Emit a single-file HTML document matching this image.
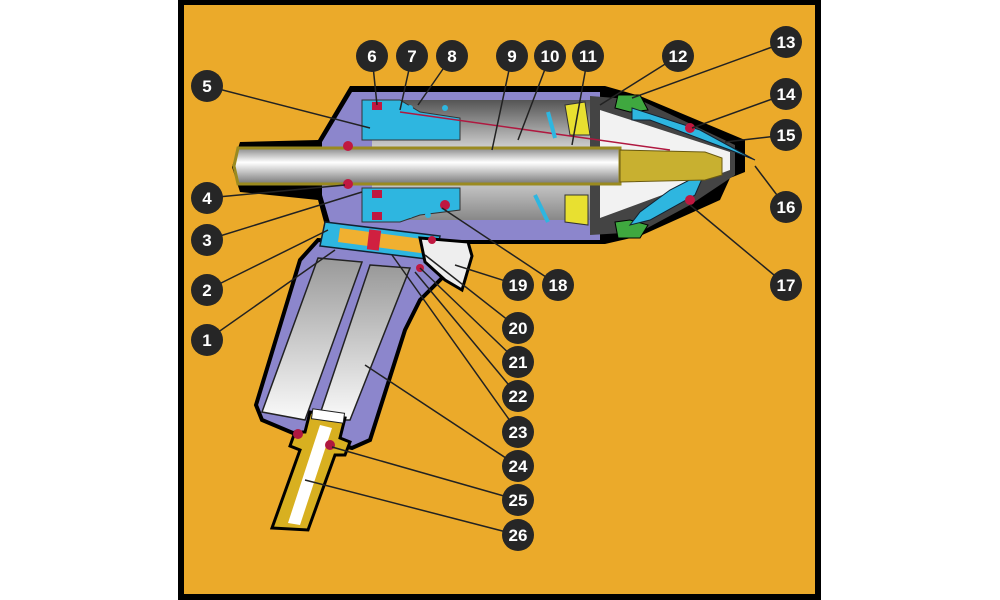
<!DOCTYPE html>
<html><head><meta charset="utf-8"><style>
html,body{margin:0;padding:0;background:#fff;width:1000px;height:600px;overflow:hidden}
text{font-family:"Liberation Sans",sans-serif;font-weight:bold;font-size:17px;fill:#fff;text-anchor:middle}
</style></head><body>
<svg width="1000" height="600" viewBox="0 0 1000 600" xmlns="http://www.w3.org/2000/svg">
<defs>
<linearGradient id="rod" x1="0" y1="0" x2="0" y2="1"><stop offset="0" stop-color="#888"/><stop offset="0.4" stop-color="#fff"/><stop offset="1" stop-color="#777"/></linearGradient>
<linearGradient id="cyl" x1="0" y1="0" x2="0" y2="1"><stop offset="0" stop-color="#999"/><stop offset="1" stop-color="#fafafa"/></linearGradient>
<linearGradient id="gr" x1="0" y1="0" x2="0" y2="1"><stop offset="0" stop-color="#555"/><stop offset="0.5" stop-color="#eee"/><stop offset="1" stop-color="#888"/></linearGradient>
</defs>
<rect x="181" y="2" width="637" height="595" fill="#EBAA2A" stroke="#000" stroke-width="6"/>
<!-- handle -->
<path d="M318 240 L440 248 L445 275 L420 300 L405 330 L370 440 L352 448 L300 436 L262 420 L256 405 L300 260 Z" fill="#8C86CC" stroke="#000" stroke-width="4"/>
<path d="M318 258 L362 262 L305 420 L262 412 Z" fill="url(#cyl)" stroke="#222" stroke-width="1.5"/>
<path d="M370 265 L410 268 L350 420 L318 420 Z" fill="url(#cyl)" stroke="#222" stroke-width="1.5"/>
<!-- fitting -->
<path d="M310 412 L345 418 L340 438 L350 442 L345 455 L335 455 L308 530 L272 528 L300 450 L290 446 L295 432 L305 432 Z" fill="#D8B020" stroke="#000" stroke-width="3"/>
<path d="M320 425 L332 428 L300 525 L288 523 Z" fill="#fff"/>
<rect x="312" y="411" width="32" height="10" fill="#fff" stroke="#222" transform="rotate(8 328 416)"/>
<circle cx="298" cy="434" r="5" fill="#B01840"/><circle cx="330" cy="445" r="5" fill="#B01840"/>
<!-- barrel -->
<path d="M350 86 L605 86 L640 96 L745 140 L745 172 L730 178 L720 200 L640 236 L605 244 L330 244 L318 200 L240 192 L232 167 L240 142 L318 140 Z" fill="#000"/>
<path d="M352 92 L600 92 L600 240 L335 240 L322 195 L322 142 Z" fill="#8C86CC"/>
<rect x="372" y="100" width="228" height="120" fill="url(#gr)"/>
<!-- nose cone -->
<path d="M590 96 L640 100 L735 145 L735 175 L690 205 L640 232 L590 235 Z" fill="#444"/>
<path d="M600 110 L730 152 L730 170 L600 218 Z" fill="#f2f2f2"/>
<!-- green rings -->
<path d="M618 95 L640 95 L648 110 L630 112 L615 108 Z" fill="#3FA83F" stroke="#000"/>
<path d="M615 222 L630 220 L648 225 L640 238 L618 238 Z" fill="#3FA83F" stroke="#000"/>
<!-- yellow -->
<path d="M565 105 L585 102 L590 135 L570 135 Z" fill="#E8E030" stroke="#333"/>
<path d="M565 195 L588 195 L588 225 L565 222 Z" fill="#E8E030" stroke="#333"/>
<!-- blue piston -->
<path d="M362 100 L400 100 L420 112 L460 118 L460 140 L400 140 L362 140 Z" fill="#2EB6E0" stroke="#333"/>
<path d="M362 188 L460 188 L460 210 L420 215 L400 222 L362 222 Z" fill="#2EB6E0" stroke="#333"/>
<!-- blue jaws -->
<path d="M632 108 L700 130 L755 160 L730 150 L650 120 L632 120 Z" fill="#2EB6E0" stroke="#123"/>
<path d="M630 225 L650 220 L695 195 L705 172 L670 190 L640 212 Z" fill="#2EB6E0" stroke="#123"/>
<!-- red thin line -->
<line x1="400" y1="112" x2="670" y2="150" stroke="#B01840" stroke-width="1.5"/>
<!-- rod -->
<path d="M238 148 L620 148 L620 184 L238 184 L234 166 Z" fill="url(#rod)" stroke="#9a8a20" stroke-width="3"/>
<path d="M620 150 L705 152 L722 158 L722 175 L705 180 L620 182 Z" fill="#C8B030" stroke="#6a5a10"/>
<!-- trigger valve -->
<path d="M325 222 L440 236 L435 260 L320 246 Z" fill="#2EB6E0" stroke="#123" stroke-width="1.5"/>
<path d="M340 228 L430 240 L428 254 L338 242 Z" fill="#F0B030"/>
<rect x="368" y="230" width="12" height="20" fill="#D02040" transform="rotate(7 374 240)"/>
<path d="M420 238 L468 242 L472 256 L462 290 L445 280 L425 262 Z" fill="#eee" stroke="#000" stroke-width="3"/>
<!-- small red dots -->
<g fill="#C01840">
<circle cx="348" cy="146" r="5"/><circle cx="348" cy="184" r="5"/>
<rect x="372" y="102" width="10" height="8"/><rect x="372" y="190" width="10" height="8"/><rect x="372" y="212" width="10" height="8"/>
<circle cx="445" cy="205" r="5"/><circle cx="690" cy="128" r="5"/><circle cx="690" cy="200" r="5"/>
<circle cx="432" cy="240" r="4"/><circle cx="420" cy="268" r="4"/>
</g>
<g fill="#2EB6E0"><circle cx="410" cy="108" r="3"/><circle cx="445" cy="108" r="3"/><circle cx="410" cy="215" r="3"/><circle cx="428" cy="215" r="3"/></g>
<line x1="535" y1="195" x2="548" y2="222" stroke="#2EB6E0" stroke-width="4"/>
<line x1="548" y1="112" x2="555" y2="138" stroke="#2EB6E0" stroke-width="4"/>
<!-- leader lines -->
<g stroke="#222" stroke-width="1.5" fill="none">
<line x1="207" y1="86" x2="370" y2="128"/><line x1="207" y1="198" x2="345" y2="185"/>
<line x1="207" y1="240" x2="362" y2="192"/><line x1="207" y1="290" x2="328" y2="230"/>
<line x1="207" y1="340" x2="335" y2="250"/>
<line x1="372" y1="56" x2="377" y2="105"/><line x1="412" y1="56" x2="400" y2="110"/>
<line x1="452" y1="56" x2="418" y2="105"/><line x1="512" y1="56" x2="492" y2="150"/>
<line x1="550" y1="56" x2="518" y2="140"/><line x1="588" y1="56" x2="572" y2="145"/>
<line x1="678" y1="56" x2="600" y2="105"/><line x1="786" y1="42" x2="632" y2="98"/>
<line x1="786" y1="94" x2="692" y2="128"/><line x1="786" y1="135" x2="725" y2="142"/>
<line x1="786" y1="207" x2="755" y2="166"/><line x1="786" y1="285" x2="690" y2="205"/>
<line x1="558" y1="285" x2="442" y2="208"/><line x1="518" y1="285" x2="455" y2="265"/>
<line x1="518" y1="328" x2="425" y2="255"/><line x1="518" y1="362" x2="420" y2="268"/>
<line x1="518" y1="396" x2="415" y2="272"/><line x1="518" y1="432" x2="392" y2="255"/>
<line x1="518" y1="466" x2="365" y2="365"/><line x1="518" y1="500" x2="332" y2="447"/>
<line x1="518" y1="535" x2="305" y2="480"/>
</g>
<!-- labels -->
<g fill="#262626">
<circle cx="207" cy="86" r="16"/><circle cx="207" cy="198" r="16"/><circle cx="207" cy="240" r="16"/>
<circle cx="207" cy="290" r="16"/><circle cx="207" cy="340" r="16"/>
<circle cx="372" cy="56" r="16"/><circle cx="412" cy="56" r="16"/><circle cx="452" cy="56" r="16"/>
<circle cx="512" cy="56" r="16"/><circle cx="550" cy="56" r="16"/><circle cx="588" cy="56" r="16"/>
<circle cx="678" cy="56" r="16"/><circle cx="786" cy="42" r="16"/><circle cx="786" cy="94" r="16"/>
<circle cx="786" cy="135" r="16"/><circle cx="786" cy="207" r="16"/><circle cx="786" cy="285" r="16"/>
<circle cx="558" cy="285" r="16"/><circle cx="518" cy="285" r="16"/><circle cx="518" cy="328" r="16"/>
<circle cx="518" cy="362" r="16"/><circle cx="518" cy="396" r="16"/><circle cx="518" cy="432" r="16"/>
<circle cx="518" cy="466" r="16"/><circle cx="518" cy="500" r="16"/><circle cx="518" cy="535" r="16"/>
</g>
<g>
<text x="207" y="92">5</text><text x="207" y="204">4</text><text x="207" y="246">3</text>
<text x="207" y="296">2</text><text x="207" y="346">1</text>
<text x="372" y="62">6</text><text x="412" y="62">7</text><text x="452" y="62">8</text>
<text x="512" y="62">9</text><text x="550" y="62">10</text><text x="588" y="62">11</text>
<text x="678" y="62">12</text><text x="786" y="48">13</text><text x="786" y="100">14</text>
<text x="786" y="141">15</text><text x="786" y="213">16</text><text x="786" y="291">17</text>
<text x="558" y="291">18</text><text x="518" y="291">19</text><text x="518" y="334">20</text>
<text x="518" y="368">21</text><text x="518" y="402">22</text><text x="518" y="438">23</text>
<text x="518" y="472">24</text><text x="518" y="506">25</text><text x="518" y="541">26</text>
</g>
</svg>
</body></html>
